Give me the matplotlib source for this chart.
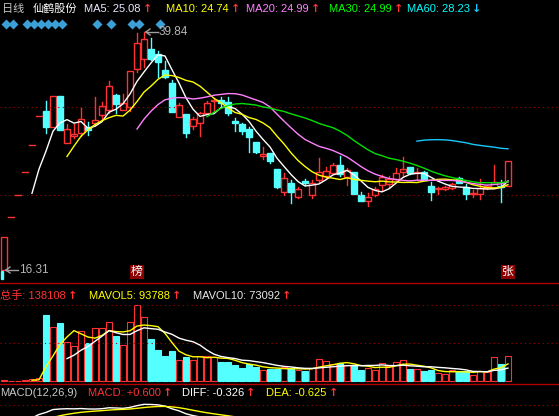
import numpy as np
import matplotlib
matplotlib.use("Agg")
import matplotlib.pyplot as plt
from matplotlib.patches import Rectangle

plt.rcParams['font.family'] = ['Liberation Sans', 'Noto Sans CJK SC', 'DejaVu Sans']

opens = [16.31,21.53,23.68,26.05,28.66,31.52,32.04,30.45,33.52,28.87,29.6,29.86,30.45,30.85,31.64,32.13,33.62,32.13,32.43,36.19,
         37.18,38.17,37.7,36.1,34.8,31.44,31.74,30.55,30.85,31.84,33.0,33.1,32.93,31.0,30.75,30.26,28.97,27.6,27.9,26.3,
         24.0,24.9,23.5,25.1,23.7,25.2,25.6,25.9,26.7,25.5,26.0,23.7,23.1,23.7,24.7,24.8,25.3,26.0,26.5,25.9,
         26.0,24.6,24.3,24.3,24.4,25.4,24.5,23.8,23.8,24.4,24.4,24.6,24.6]
highs = [19.57,21.53,23.68,26.05,28.66,31.52,33.03,33.52,33.52,30.8,30.8,32.33,30.95,33.42,32.93,35.0,33.7,33.7,36.0,39.75,
         39.84,39.26,38.0,36.98,35.1,32.83,31.74,31.44,31.9,33.0,33.3,33.4,33.4,31.35,30.85,30.45,28.97,28.5,27.9,26.3,
         25.9,25.2,24.5,25.3,25.2,27.4,26.5,26.9,27.6,26.4,26.0,24.0,23.9,24.5,25.7,25.6,26.4,27.5,26.5,26.4,
         26.1,25.0,24.5,24.6,24.9,25.5,24.8,24.2,25.3,24.7,26.7,25.2,27.1]
lows = [16.31,21.53,23.68,26.05,28.66,31.52,29.86,30.45,30.16,28.87,29.4,29.56,29.66,30.7,31.15,31.8,31.84,32.1,32.0,35.9,
        36.4,37.1,35.4,35.3,31.9,31.4,29.47,30.26,29.56,31.8,32.0,32.4,31.64,30.06,29.76,27.98,27.9,27.3,26.9,24.4,
        23.7,22.9,23.4,24.7,23.4,25.0,25.4,25.8,25.6,24.7,23.8,23.1,22.6,23.6,24.2,24.5,25.2,25.6,25.8,25.2,
        25.2,23.2,23.8,24.2,24.3,24.9,23.3,23.5,23.3,24.3,24.4,23.0,24.6]
closes = [19.57,21.53,23.68,26.05,28.66,31.52,30.45,33.52,30.16,30.26,29.8,31.25,30.16,31.15,32.53,34.5,32.73,32.83,36.0,38.76,
          39.16,37.18,36.9,35.4,31.94,32.63,29.86,31.25,31.84,32.83,33.1,32.8,31.84,30.85,30.06,29.47,27.98,27.8,27.1,24.5,
          25.4,24.0,24.3,24.9,24.9,26.0,26.1,26.7,25.8,26.2,23.8,23.1,23.5,24.3,25.5,25.3,25.9,26.3,25.9,26.0,
          25.2,24.0,24.4,24.5,24.8,24.9,23.8,23.9,24.4,24.6,25.0,24.5,27.1]
volumes_k = [4,2,2,3,9,18,
             365,297,322,215,193,276,208,291,291,326,249,199,324,420,354,232,171,138,166,116,
             133,116,138,140,131,107,107,88,74,92,77,61,64,64,75,74,61,57,70,120,110,92,98,88,88,61,74,61,98,83,
             105,116,66,66,55,61,42,37,61,55,55,33,57,52,131,94,138.108]
diamond_idx = [0,1,3,4,5,6,7,8,13,15,18,19,22]
price_high_label = "39.84"
price_low_label = "16.31"

n = len(closes)
o = np.array(opens); h = np.array(highs); l = np.array(lows); c = np.array(closes)
v = np.array(volumes_k) * 1000
idx = np.arange(n)

W, H = 559, 416
fig = plt.figure(figsize=(W/100, H/100), dpi=100, facecolor='black')

def axes_px(y0, y1):
    ax = fig.add_axes([0, 1 - y1/H, 1, (y1 - y0)/H])
    ax.set_facecolor('black')
    ax.axis('off')
    ax.set_xlim(-4/7, (W-4)/7)
    return ax

RED = '#ff3232'; CYAN = '#54ffff'
ax = axes_px(18, 283)
ax.set_ylim(16.31 - 13/10.11, 16.31 + 252/10.11)
for p in (16.31 + 163/10.11, 16.31 + 75/10.11):
    ax.axhline(p, color='#a00000', ls=(0, (1, 3)), lw=0.8)
bw = 0.38
for i in idx:
    up = c[i] >= o[i]
    col = RED if up else CYAN
    top, bot = max(o[i], c[i]), min(o[i], c[i])
    if abs(h[i]-l[i]) < 1e-6:
        ax.plot([i-bw, i+bw], [c[i], c[i]], color=col, lw=1)
        continue
    ax.plot([i, i], [top, h[i]], color=col, lw=1)
    ax.plot([i, i], [l[i], bot], color=col, lw=1)
    if top - bot < 0.08:
        ax.plot([i-bw, i+bw], [c[i], c[i]], color=col, lw=1.2)
    else:
        ax.add_patch(Rectangle((i-bw, bot), 2*bw, top-bot, facecolor='black' if up else col,
                               edgecolor=col, lw=1))
ma_cfg = [(5, 'white'), (10, '#ffff00'), (20, '#ff80ff'), (30, '#00e000'), (60, '#19c8ff')]
for p, col in ma_cfg:
    ma = np.convolve(c, np.ones(p)/p, mode='valid')
    ax.plot(idx[p-1:], ma, color=col, lw=1)
ax.plot(np.array(diamond_idx) + 0.3, [16.31 + 246/10.11]*len(diamond_idx), 'D', color='#3ca0d8', ms=5.5, mec='none')

av = axes_px(283, 383)
av.set_ylim(-2*5524, 98*5524)
for yy in (305, 343):
    av.axhline((381-yy)*5524, color='#a00000', ls=(0, (1, 3)), lw=0.8)
for i in idx:
    up = c[i] >= o[i]
    col = RED if up else CYAN
    av.add_patch(Rectangle((i-bw, 0), 2*bw, v[i], facecolor='black' if up else col, edgecolor=col, lw=0.8))
for p, col in [(5, '#ffff00'), (10, 'white')]:
    ma = np.convolve(v, np.ones(p)/p, mode='valid')
    av.plot(idx[p-1:], ma, color=col, lw=1)

am = axes_px(398, 416)
def ema(x, s):
    out = np.zeros_like(x); out[0] = x[0]; a = 2/(s+1)
    for k in range(1, len(x)):
        out[k] = a*x[k] + (1-a)*out[k-1]
    return out
diff = ema(c, 12) - ema(c, 26)
dea = ema(diff, 9)
pk = diff.max()
am.set_ylim(pk*0.45, pk + pk*0.3)
am.axhline(pk*0.97, color='#a00000', ls=(0, (1, 3)), lw=0.8)
am.plot(idx, diff, color='white', lw=1)
am.plot(idx, dea, color='#ffff00', lw=1)

for yy in (283, 384):
    fig.add_artist(plt.Line2D([0, 1], [1-yy/H]*2, color='#b00000', lw=1))

fig.canvas.draw()
rend = fig.canvas.get_renderer()
def label(x, y, s, col, arrow=None, acol=RED, fs=8):
    t = fig.text(x/W, 1-y/H, s, color=col, fontsize=fs, va='center', ha='left')
    if arrow:
        bb = t.get_window_extent(rend)
        fig.text((bb.x1+2)/W, 1-y/H, arrow, color=acol, fontsize=fs, va='center', ha='left',
                 fontweight='bold', family=['DejaVu Sans'])

label(2, 9, "日线", '#c8c8c8')
label(33, 9, "仙鹤股份", 'white')
label(84, 9, "MA5: 25.08", '#e8e8ff', '↑')
label(166, 9, "MA10: 24.74", '#ffff00', '↑')
label(246, 9, "MA20: 24.99", '#ff80ff', '↑')
label(329, 9, "MA30: 24.99", '#00ff00', '↑')
label(407, 9, "MA60: 28.23", '#00ffff', '↓', acol='#19c8ff')
label(0, 296, "总手: 138108", RED, '↑')
label(89, 296, "MAVOL5: 93788", '#ffff00', '↑')
label(193, 296, "MAVOL10: 73092", '#e8e8e8', '↑')
label(0, 393, "MACD(12,26,9)", '#c8c8c8')
label(88, 393, "MACD: +0.600", RED, '↑')
label(182, 393, "DIFF: -0.326", 'white', '↑')
label(266, 393, "DEA: -0.625", '#ffff00', '↑')

for (xa, ya, s) in [(146, 32, price_high_label), (6, 270, price_low_label)]:
    fig.add_artist(plt.Line2D([xa/W, (xa+12)/W], [1-ya/H]*2, color='#a0a0a0', lw=1))
    fig.add_artist(plt.Line2D([xa/W, (xa+4)/W], [1-ya/H, 1-(ya-3)/H], color='#a0a0a0', lw=1))
    fig.add_artist(plt.Line2D([xa/W, (xa+4)/W], [1-ya/H, 1-(ya+3)/H], color='#a0a0a0', lw=1))
    fig.text((xa+13)/W, 1-ya/H, s, color='#b4b4b4', fontsize=8.5, va='center')
fig.add_artist(Rectangle((1/W, 1-279/H), 2/W, 8/H, color=CYAN))
for xx, s in [(130, "榜"), (501, "张")]:
    fig.text((xx+7)/W, 1-272/H, s, color='white', fontsize=8.5, ha='center', va='center',
             bbox=dict(boxstyle='square,pad=0.1', fc='#8b0000', ec='none'))

fig.savefig('out.png', dpi=100, facecolor='black')
